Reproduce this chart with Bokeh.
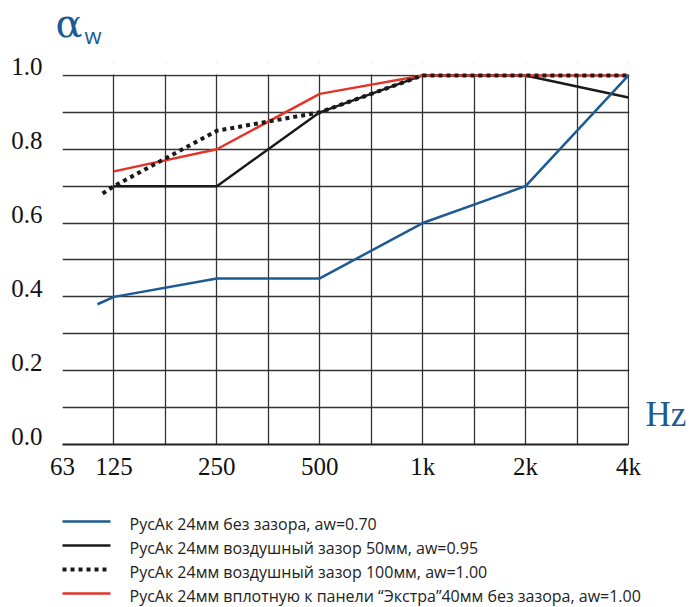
from bokeh.plotting import figure
from bokeh.layouts import column, row
from bokeh.models import (FixedTicker, PrintfTickFormatter, Range1d, LinearAxis, Grid,
                          BoxAnnotation, Label)
from bokeh.core.properties import value
from bokeh.embed import file_html
from bokeh.resources import INLINE

# ---- data ----
# x positions are grid columns: 63 Hz = 0, 125 = 1, 250 = 3, 500 = 5, 1k = 7, 2k = 9, 4k = 11
tick_pos = [0, 1, 3, 5, 7, 9, 11]
tick_labels = ["63", "125", "250", "500", "1k", "2k", "4k"]
y_ticks = [0.0, 0.2, 0.4, 0.6, 0.8, 1.0]

blue_x = [0.68, 1, 3, 5, 7, 9, 11]
blue_y = [0.38, 0.40, 0.45, 0.45, 0.60, 0.70, 1.00]

black_x = [1, 3, 5, 7, 9, 11]
black_y = [0.70, 0.70, 0.90, 1.00, 1.00, 0.94]

dotted_x = [0.78, 1, 3, 5, 7, 9, 11]
dotted_y = [0.68, 0.70, 0.85, 0.90, 1.00, 1.00, 1.00]

red_x = [1, 3, 5, 7, 9, 11]
red_y = [0.74, 0.80, 0.95, 1.00, 1.00, 1.00]

legend_labels = [
    "РусАк 24мм без зазора, aw=0.70",
    "РусАк 24мм воздушный зазор 50мм, aw=0.95",
    "РусАк 24мм воздушный зазор 100мм, aw=1.00",
    "РусАк 24мм вплотную к панели “Экстра”40мм без зазора, aw=1.00",
]

BLUE = "#1d5a94"
RED = "#e2352a"
BLACK = "#1a1a1a"
SERIF = "Liberation Serif"


def blank(width, height):
    f = figure(width=width, height=height, output_backend="svg", toolbar_location=None,
               x_range=Range1d(0, width), y_range=Range1d(0, height),
               x_axis_location=None, y_axis_location=None,
               min_border_left=0, min_border_right=0, min_border_top=0, min_border_bottom=0)
    f.title.visible = False
    f.outline_line_color = None
    f.xgrid.visible = False
    f.ygrid.visible = False
    return f


# ---- header with the alpha_w axis title ----
HEAD_H = 52
head = blank(691, HEAD_H)
head.text(x=[55], y=[HEAD_H - 22], text=["α"], text_font=value("DejaVu Serif"), text_font_size="40px",
          text_color=BLUE, text_baseline="middle", text_align="left")
head.text(x=[84], y=[HEAD_H - 34], text=["w"], text_font=value("Open Sans"), text_font_size="22px",
          text_color=BLUE, text_baseline="middle", text_align="left")

# ---- main chart ----
TOP = 1.035      # a little room above the 1.0 rule
XMAX = 12.225    # room on the right for the "Hz" title
XEND = 11        # last grid column (4k)
shift = 0.023    # tick labels sit on top of their grid line
MAIN_H = 432
p = figure(width=691, height=MAIN_H, output_backend="svg", toolbar_location=None,
           x_range=Range1d(0, XMAX), y_range=Range1d(0, TOP), y_axis_location=None,
           min_border_left=62, min_border_right=0, min_border_top=10, min_border_bottom=40)
p.title.visible = False
p.extra_y_ranges = {"lab": Range1d(-shift, TOP - shift)}
p.outline_line_color = None

p.xgrid.ticker = FixedTicker(ticks=list(range(XEND + 1)))
ygrid = Grid(dimension=1, ticker=FixedTicker(ticks=[i / 10 for i in range(11)]))
p.add_layout(ygrid)
for g in (p.xgrid[0], ygrid):
    g.grid_line_color = "#333333"
    g.grid_line_width = 1.3
    g.grid_line_alpha = 1.0
p.add_layout(Grid(dimension=0, ticker=FixedTicker(ticks=[0.0]), grid_line_color="#222222",
                  grid_line_width=2.5))
# white bands so that the rules stop at 1.0 and at 4k
p.add_layout(BoxAnnotation(bottom=1.0025, fill_color="white", fill_alpha=1.0, line_color=None,
                           level="underlay"))
p.add_layout(BoxAnnotation(left=XEND + 0.015, fill_color="white", fill_alpha=1.0, line_color=None,
                           level="underlay"))

yax = LinearAxis(y_range_name="lab", ticker=FixedTicker(ticks=y_ticks),
                 formatter=PrintfTickFormatter(format="%.1f"))
p.add_layout(yax, "left")

p.xaxis.ticker = FixedTicker(ticks=tick_pos)
p.xaxis.major_label_overrides = {k: v for k, v in zip(tick_pos, tick_labels)}
p.xaxis.bounds = (0, XEND)
for ax in (p.xaxis[0], yax):
    ax.axis_line_color = "#222222"
    ax.axis_line_width = 2
    ax.major_tick_line_color = None
    ax.minor_tick_line_color = None
    ax.major_tick_out = 0
    ax.major_tick_in = 0
    ax.major_label_text_font = SERIF
    ax.major_label_text_font_size = "25px"
    ax.major_label_text_color = "#111111"
p.xaxis.major_label_standoff = 8
yax.major_label_standoff = 20
yax.axis_line_color = None

p.line(black_x, black_y, line_color=BLACK, line_width=2.5)
p.line(red_x, red_y, line_color=RED, line_width=2.5)
p.line(dotted_x, dotted_y, line_color=BLACK, line_width=4, line_dash="4 4")
p.line(blue_x, blue_y, line_color=BLUE, line_width=2.5)

# "Hz" axis title at the right of the grid
p.add_layout(Label(x=11.33, y=0.081, text="Hz", text_font=SERIF, text_font_size="35px",
                   text_color=BLUE, text_baseline="middle", text_align="left"))

# ---- legend ----
LEG_H = 607 - HEAD_H - MAIN_H
leg = blank(691, LEG_H)
rows_top = [523, 547, 571, 595]
styles = [dict(line_color=BLUE, line_width=2.5),
          dict(line_color=BLACK, line_width=2.5),
          dict(line_color=BLACK, line_width=4, line_dash="4 4"),
          dict(line_color=RED, line_width=2.5)]
for yt, st, lab in zip(rows_top, styles, legend_labels):
    yy = 607 - yt
    leg.line([62, 110], [yy + 2, yy + 2], **st)
    leg.text(x=[129], y=[yy], text=[lab], text_font=value("Open Sans"),
             text_font_size="16px", text_color="#222222",
             text_baseline="middle", text_align="left")

# the main plot is wrapped in a row so that its frame is not aligned with the other two
layout = column(head, row(p), leg)
open("out.html", "w").write(file_html(layout, INLINE))
